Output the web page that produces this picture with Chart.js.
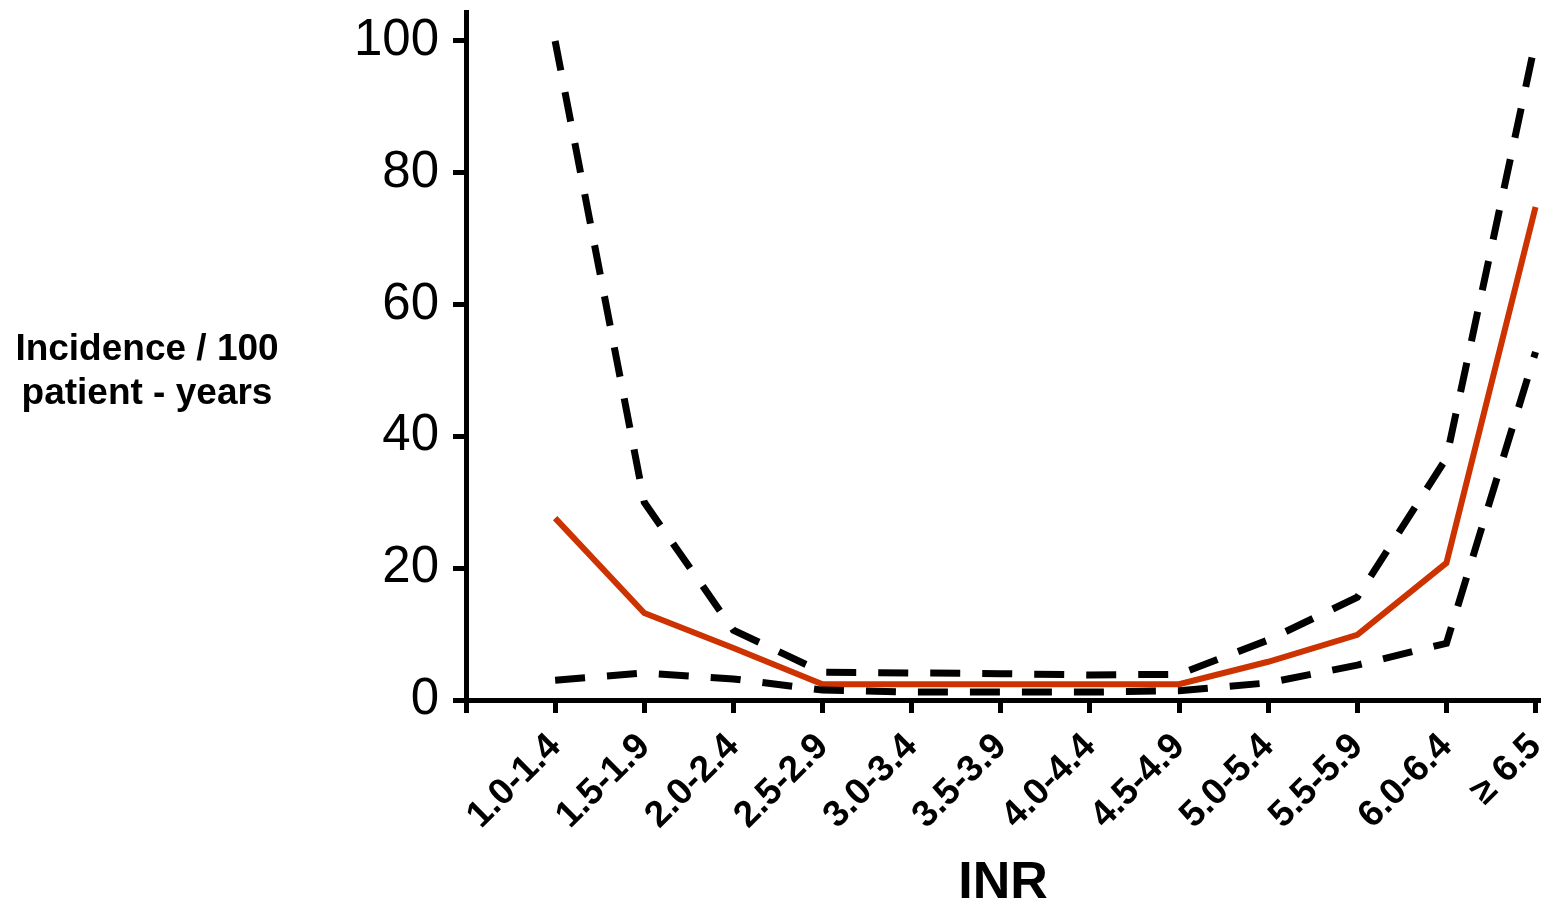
<!DOCTYPE html>
<html>
<head>
<meta charset="utf-8">
<script src="https://cdn.jsdelivr.net/npm/chart.js@4"></script>
<style>
  html, body { margin: 0; padding: 0; background: #fff; }
  #wrap { width: 1562px; height: 910px; position: relative; }
</style>
</head>
<body>
<div id="wrap"><canvas id="canvas_inr"></canvas></div>
<script>
// INR ranges
const inrLabels = ['1.0-1.4', '1.5-1.9', '2.0-2.4', '2.5-2.9', '3.0-3.4', '3.5-3.9',
                   '4.0-4.4', '4.5-4.9', '5.0-5.4', '5.5-5.9', '6.0-6.4', '\u2265 6.5'];
// incidence per 100 patient-years
const incidence = [27.6, 13.2, 7.9, 2.4, 2.4, 2.4, 2.4, 2.4, 5.8, 9.9, 20.8, 74.8];
const upperCI   = [100, 30.0, 10.6, 4.2, 4.1, 4.0, 3.8, 3.9, 9.1, 15.6, 36.7, 100];
const lowerCI   = [3.0, 4.1, 3.2, 1.5, 1.2, 1.2, 1.2, 1.4, 2.6, 5.3, 8.6, 52.8];
const yTicks    = [0, 20, 40, 60, 80, 100];

const toPoints = (arr) => arr.map((v, i) => ({ x: i, y: v }));
const font = 'Liberation Sans, Arial, Helvetica, sans-serif';

// horizontal y-axis caption on the left
const yCaption = {
    id: 'yCaption',
    afterDraw(chart) {
        const c = chart.ctx;
        c.save();
        c.fillStyle = '#000';
        c.font = 'bold 37px ' + font;
        c.textAlign = 'center';
        c.textBaseline = 'middle';
        c.fillText('Incidence / 100', 147, 350);
        c.fillText('patient - years', 147, 394);
        c.restore();
    }
};

const dashed = {
    borderColor: '#000',
    borderWidth: 7,
    borderDash: [30, 22],
    pointRadius: 0,
    fill: false,
    tension: 0
};

new Chart(document.getElementById('canvas_inr'), {
    type: 'line',
    data: {
        datasets: [
            Object.assign({ label: 'upper', data: toPoints(upperCI) }, dashed),
            Object.assign({ label: 'lower', data: toPoints(lowerCI) }, dashed),
            {
                label: 'incidence',
                data: toPoints(incidence),
                borderColor: '#cc3300',
                borderWidth: 6,
                pointRadius: 0,
                fill: false,
                tension: 0
            }
        ]
    },
    plugins: [yCaption],
    options: {
        responsive: true,
        maintainAspectRatio: false,
        animation: false,
        layout: { padding: { top: 12, right: 22, left: 0, bottom: 0 } },
        plugins: {
            legend: { display: false },
            tooltip: { enabled: false }
        },
        scales: {
            x: {
                type: 'linear',
                min: -1,
                max: 11.05,
                afterBuildTicks: (s) => { s.ticks = []; for (let i = -1; i <= 11; i++) s.ticks.push({ value: i }); },
                afterFit: (s) => { s.height = 210; s.paddingLeft = 0; s.paddingRight = 0; },
                border: { display: true, color: '#000', width: 5 },
                grid: { drawOnChartArea: false, drawTicks: true, tickLength: 13, tickWidth: 5, tickColor: '#000' },
                ticks: {
                    color: '#000',
                    font: { family: font, size: 37, weight: 'bold' },
                    minRotation: 45,
                    maxRotation: 45,
                    padding: 12,
                    autoSkip: false,
                    callback: (v) => (v >= 0 && v < inrLabels.length) ? inrLabels[v] : ''
                },
                title: {
                    display: true,
                    text: 'INR',
                    color: '#000',
                    font: { family: font, size: 52, weight: 'bold', lineHeight: 1.0 },
                    padding: { top: 0, bottom: 0 }
                }
            },
            y: {
                min: 0,
                max: 104.4,
                afterBuildTicks: (s) => { s.ticks = yTicks.map(v => ({ value: v })); },
                afterFit: (s) => { s.width = 466; s.paddingTop = 0; s.paddingBottom = 0; },
                border: { display: true, color: '#000', width: 5 },
                grid: { drawOnChartArea: false, drawTicks: true, tickLength: 13, tickWidth: 5, tickColor: '#000' },
                ticks: {
                    color: '#000',
                    font: { family: font, size: 51 },
                    padding: 14
                }
            }
        }
    }
});
</script>
</body>
</html>
